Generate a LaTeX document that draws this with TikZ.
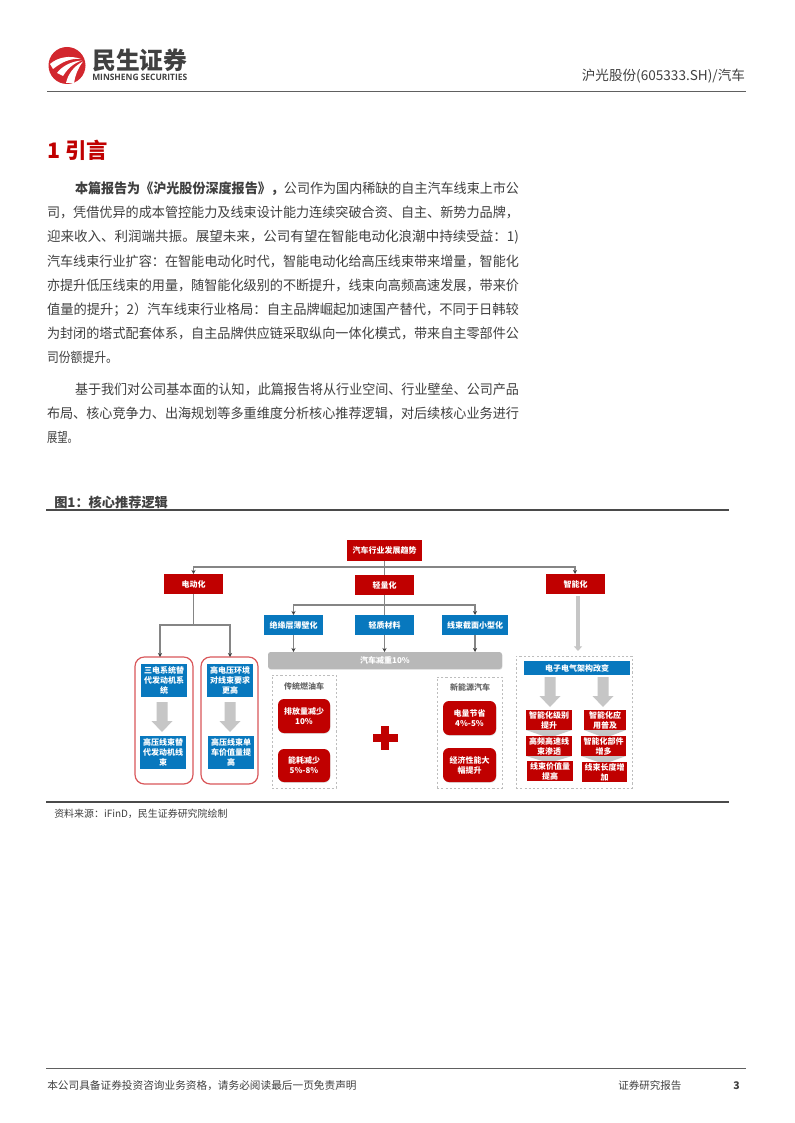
\documentclass[tikz,border=0pt]{standalone}
\usepackage{fontspec}
\usepackage{graphicx}
\usetikzlibrary{arrows.meta,shadows}
\setmainfont{Noto Sans CJK SC}
\newfontfamily\latinbold{Open Sans}
\definecolor{txt}{HTML}{404040}
\definecolor{rulec}{HTML}{4A4A4A}
\definecolor{thinrule}{HTML}{606060}
\definecolor{repred}{HTML}{C00000}
\definecolor{repblue}{HTML}{0878BE}
\definecolor{bargray}{HTML}{B8B8B8}
\definecolor{blockgray}{HTML}{C6C6C6}
\definecolor{linegray}{HTML}{858585}
\definecolor{ringred}{HTML}{D9575A}
\definecolor{dashgray}{HTML}{BDBDBD}
\definecolor{logored}{HTML}{D2272E}
\tikzset{
  base/.style={inner sep=0pt,outer sep=0pt,align=center,font=\fontsize{6pt}{7.5pt}\selectfont\bfseries},
  redbox/.style={base,fill=repred,text=white},
  bluebox/.style={base,fill=repblue,text=white},
  redround/.style={base,fill=repred,text=white,rounded corners=4.5pt,drop shadow={opacity=.25,shadow xshift=.4pt,shadow yshift=-.6pt}},
  ring/.style={base,draw=ringred,line width=.9pt,fill=white,rounded corners=7pt},
  dashbox/.style={base,draw=dashgray,line width=.7pt,dash pattern=on 1.6pt off 1.6pt},
  graybar/.style={base,fill=bargray,text=white,rounded corners=2pt,font=\fontsize{6pt}{7.5pt}\selectfont\bfseries,drop shadow={opacity=.25,shadow xshift=.3pt,shadow yshift=-.5pt}},
  conn/.style={draw=linegray,line width=.95pt},
  tipconn/.style={conn,-{Stealth[length=3pt,width=3pt,color=black!75]}},
  textline/.style={inner sep=0pt,outer sep=0pt,anchor=base west,text=txt},
  plainlabel/.style={inner sep=0pt,outer sep=0pt,text=txt},
}
% name, x1, y1, x2, y2, style, text
\newcommand\pxbox[7]{\node[#6,minimum width={(#4-#2)*0.75pt},minimum height={(#5-#3)*0.75pt}] (#1) at ({(#2+#4)/2},{(#3+#5)/2}) {#7};}
% name, x, baseline y, width in pt, text : line stretched to the measured width
\newcommand\bodyline[5]{\node[textline] (#1) at (#2,#3) {\resizebox{#4}{\height}{\fontsize{10.2pt}{12pt}\selectfont #5}};}
% centre x, top y, head start y, tip y
\newcommand\blockarrow[4]{\fill[blockgray] ({#1-5.5},#2) -- ({#1+5.5},#2) -- ({#1+5.5},#3) -- ({#1+10.5},#3) -- (#1,#4) -- ({#1-10.5},#3) -- ({#1-5.5},#3) -- cycle;}
\begin{document}
\begin{tikzpicture}[x=0.75pt,y=-0.75pt]
\useasboundingbox (0,0) rectangle (794,1123);
\fill[white] (0,0) rectangle (794,1123);
% logo
\fill[logored] (67,65.5) circle (18.5);
\fill[white] (50,64) .. controls (58,57) and (70,55) .. (81,59) .. controls (70,58) and (62,62) .. (53,69) -- cycle;
\fill[white] (57,73) .. controls (62,66) and (72,61) .. (82,60.5) .. controls (74,63) and (68,68) .. (63,76) -- cycle;
\fill[white] (66,83) .. controls (68,74) and (74,66) .. (83,61.5) .. controls (78,68) and (75,76) .. (74,83) -- cycle;
\node[inner sep=0pt,anchor=base west,text=txt] (logocn) at (92,70) {\resizebox{71.25pt}{\height}{\fontsize{18pt}{20pt}\selectfont\bfseries 民生证券}};
\node[inner sep=0pt,anchor=base west,text=txt] (logoen) at (92,81) {\resizebox{71.25pt}{\height}{\latinbold\fontsize{6.6pt}{8pt}\selectfont\bfseries MINSHENG SECURITIES}};
% header
\node[plainlabel,anchor=base east] (hdr) at (745,81) {\fontsize{10.2pt}{12pt}\selectfont 沪光股份(605333.SH)/汽车};
\coordinate (hl) at (47,91); \coordinate (hr) at (746,91);
\draw[thinrule,line width=.7pt] (hl) -- (hr);
% heading
\node[inner sep=0pt,anchor=base west,text=repred] (title) at (47,159) {\fontsize{16pt}{20pt}\selectfont\bfseries 1 引言};
% body
\bodyline{a1}{75}{194}{333pt}{{\bfseries 本篇报告为《沪光股份深度报告》，}公司作为国内稀缺的自主汽车线束上市公}
\bodyline{a2}{47}{218}{354pt}{司，凭借优异的成本管控能力及线束设计能力连续突破合资、自主、新势力品牌，}
\bodyline{a3}{47}{242}{354pt}{迎来收入、利润端共振。展望未来，公司有望在智能电动化浪潮中持续受益：1)}
\bodyline{a4}{47}{266}{354pt}{汽车线束行业扩容：在智能电动化时代，智能电动化给高压线束带来增量，智能化}
\bodyline{a5}{47}{290}{354pt}{亦提升低压线束的用量，随智能化级别的不断提升，线束向高频高速发展，带来价}
\bodyline{a6}{47}{314}{354pt}{值量的提升；2）汽车线束行业格局：自主品牌崛起加速国产替代，不同于日韩较}
\bodyline{a7}{47}{338}{354pt}{为封闭的塔式配套体系，自主品牌供应链采取纵向一体化模式，带来自主零部件公}
\bodyline{a8}{47}{362}{53.25pt}{司份额提升。}
\bodyline{b1}{75}{394}{333pt}{基于我们对公司基本面的认知，此篇报告将从行业空间、行业壁垒、公司产品}
\bodyline{b2}{47}{418}{354pt}{布局、核心竞争力、出海规划等多重维度分析核心推荐逻辑，对后续核心业务进行}
\bodyline{b3}{47}{442}{23.25pt}{展望。}
% caption
\node[inner sep=0pt,anchor=base west,text=txt] (cap) at (54,507) {\fontsize{9.9pt}{11pt}\selectfont\bfseries 图1：核心推荐逻辑};
\coordinate (c1) at (46,510); \coordinate (c2) at (729,510);
\draw[rulec,line width=1.5pt] (c1) -- (c2);
\coordinate (s1) at (46,801.5); \coordinate (s2) at (729,801.5);
\draw[rulec,line width=1.5pt] (s1) -- (s2);
\node[inner sep=0pt,anchor=base west,text=txt] (src) at (54,817) {\fontsize{7.47pt}{9pt}\selectfont 资料来源：iFinD，民生证券研究院绘制};
% footer
\coordinate (f1) at (46,1068); \coordinate (f2) at (746,1068);
\draw[thinrule,line width=.6pt] (f1) -- (f2);
\node[inner sep=0pt,anchor=base west,text=txt] (ft1) at (47,1089) {\fontsize{8pt}{9pt}\selectfont 本公司具备证券投资咨询业务资格，请务必阅读最后一页免责声明};
\node[inner sep=0pt,anchor=base west,text=txt] (ft2) at (618,1089) {\fontsize{7.9pt}{9pt}\selectfont 证券研究报告};
\node[inner sep=0pt,anchor=base west,text=txt] (ft3) at (733,1089) {\fontsize{7.9pt}{9pt}\selectfont\bfseries 3};
% --- diagram ---
\pxbox{top}{347}{540}{422}{561}{redbox}{汽车行业发展趋势}
\pxbox{ev}{164}{574}{223}{594}{redbox}{电动化}
\pxbox{light}{355}{575}{414}{595}{redbox}{轻量化}
\pxbox{smart}{546}{574}{605}{594}{redbox}{智能化}
\pxbox{ins}{264}{615}{323}{635}{bluebox}{绝缘层薄壁化}
\pxbox{mat}{355}{615}{414}{635}{bluebox}{轻质材料}
\pxbox{thin}{442}{615}{508}{635}{bluebox}{线束截面小型化}
\pxbox{bar}{268}{652}{502}{669}{graybar}{汽车减重10\%}
% rings
\pxbox{ringa}{135}{657}{193}{784}{ring}{}
\pxbox{ringb}{201}{657}{258}{784}{ring}{}
\pxbox{a1top}{141}{664}{187}{697}{bluebox}{三电系统替\\代发动机系\\统}
\pxbox{b1top}{207}{664}{253}{697}{bluebox}{高电压环境\\对线束要求\\更高}
\pxbox{a1bot}{140}{736}{186}{769}{bluebox}{高压线束替\\代发动机线\\束}
\pxbox{b1bot}{208}{736}{254}{769}{bluebox}{高压线束单\\车价值量提\\高}
\blockarrow{162}{702}{721}{732}
\blockarrow{230}{702}{721}{732}
% dashed panels
\pxbox{fuel}{272}{675}{336}{788}{dashbox}{}
\pxbox{nev}{437}{677}{502}{788}{dashbox}{}
\pxbox{arch}{516}{656}{632}{788}{dashbox}{}
\node[plainlabel,font=\fontsize{6pt}{7.5pt}\selectfont\bfseries,text=black!60] (fuellab) at (304,686) {传统燃油车};
\node[plainlabel,font=\fontsize{6pt}{7.5pt}\selectfont\bfseries,text=black!60] (nevlab) at (470,687) {新能源汽车};
\pxbox{fa}{278}{699}{330}{733}{redround}{排放量减少\\10\%}
\pxbox{fb}{278}{749}{330}{782}{redround}{能耗减少\\5\%-8\%}
\pxbox{na}{443}{701}{496}{735}{redround}{电量节省\\4\%-5\%}
\pxbox{nb}{443}{748}{496}{782}{redround}{经济性能大\\幅提升}
% plus
\fill[repred] (381,726) rectangle (389,750);
\fill[repred] (373,734) rectangle (398,742);
% architecture
\pxbox{archh}{524}{661}{630}{675}{bluebox}{电子电气架构改变}
\blockarrow{550}{677}{696}{707}
\blockarrow{603}{677}{696}{707}
\fill[blockgray] (526,730) -- (572,730) -- (549,738) -- cycle;
\fill[blockgray] (526,756) -- (572,756) -- (549,763) -- cycle;
\fill[blockgray] (584,730) -- (626,730) -- (605,738) -- cycle;
\fill[blockgray] (581,756) -- (626,756) -- (604,764) -- cycle;
\pxbox{s1a}{526}{710}{572}{730}{redbox}{智能化级别\\提升}
\pxbox{s2a}{584}{710}{626}{730}{redbox}{智能化应\\用普及}
\pxbox{s1b}{526}{736}{572}{756}{redbox}{高频高速线\\束渗透}
\pxbox{s2b}{581}{736}{626}{756}{redbox}{智能化部件\\增多}
\pxbox{s1c}{527}{761}{573}{781}{redbox}{线束价值量\\提高}
\pxbox{s2c}{582}{762}{627}{782}{redbox}{线束长度增\\加}
% connectors
\coordinate (busa) at (384.5,567);
\coordinate (busb) at (384.5,605);
\coordinate (busc) at (193.5,625);
\coordinate (ra) at (160,657);
\coordinate (rb) at (230,657);
\coordinate (smtop) at (578,596);
\coordinate (smend) at (578,651);
\coordinate (smin) at (575,574);
\draw[conn] (top.south) -- (busa);
\draw[conn] (busa) -- (light.north);
\draw[tipconn] (busa) -| (ev.north);
\draw[tipconn] (busa) -| (smin);
\draw[conn] (light.south) -- (busb);
\draw[conn] (busb) -- (mat.north);
\draw[tipconn] (busb) -| (ins.north);
\draw[tipconn] (busb) -| (thin.north);
\draw[tipconn] (ins.south) -- (ins.south |- bar.north);
\draw[tipconn] (mat.south) -- (mat.south |- bar.north);
\draw[tipconn] (thin.south) -- (thin.south |- bar.north);
\draw[conn] (ev.south) -- (busc);
\draw[tipconn] (busc) -| (ra);
\draw[tipconn] (busc) -| (rb);
\draw[blockgray,line width=2.6pt,-{Triangle[length=3.5pt,width=6pt]}] (smtop) -- (smend);
\end{tikzpicture}
\end{document}
